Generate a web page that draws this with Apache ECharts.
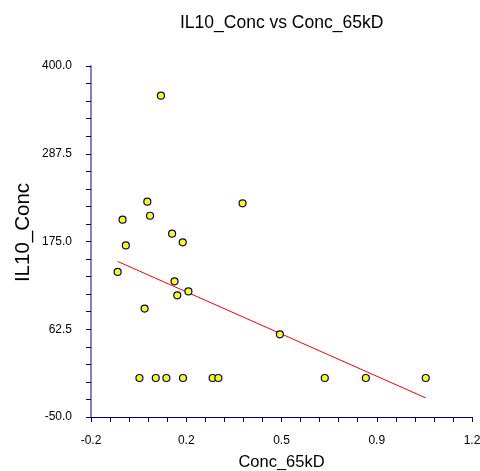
<!DOCTYPE html>
<html>
<head>
<meta charset="utf-8">
<script src="https://cdn.jsdelivr.net/npm/echarts@6/dist/echarts.min.js"></script>
<style>
html,body{margin:0;padding:0;background:#fff;}
#chart{width:480px;height:471px;}
</style>
</head>
<body>
<div id="chart"></div>
<script>
// Data
var conc65kD = [0.057, 0.007, 0.357, -0.084, 0.017, 0.098, 0.137, -0.072, -0.102, -0.003, 0.107, 0.117, 0.158, 0.494, -0.022, 0.038, 0.077, 0.138, 0.247, 0.268, 0.659, 0.81, 1.03];
var il10Conc = [362, 226, 224, 203, 208, 185, 174, 170, 136, 89, 124, 106, 111, 56, 0, 0, 0, 0, 0, 0, 0, 0, 0];

var xTickValues = [-0.2, 0.15, 0.5, 0.85, 1.2];
var xTickLabels = ['-0.2', '0.2', '0.5', '0.9', '1.2'];
var yTickValues = [-50, 62.5, 175, 287.5, 400];
var yTickLabels = ['-50.0', '62.5', '175.0', '287.5', '400.0'];

var titleText = 'IL10_Conc vs Conc_65kD';
var xName = 'Conc_65kD';
var yName = 'IL10_Conc';

// minor tick positions (5 per major interval)
function minorTicks(vals) {
  var out = [];
  for (var i = 0; i < vals.length - 1; i++) {
    var step = (vals[i + 1] - vals[i]) / 5;
    for (var k = 0; k < 5; k++) out.push(vals[i] + step * k);
  }
  out.push(vals[vals.length - 1]);
  return out;
}
function lookup(values, labels, v) {
  var best = 0, bd = Infinity;
  for (var i = 0; i < values.length; i++) {
    var d = Math.abs(values[i] - v);
    if (d < bd) { bd = d; best = i; }
  }
  return labels[best];
}

var points = conc65kD.map(function (x, i) { return [x, il10Conc[i]]; });

// least-squares regression line
var n = conc65kD.length, sx = 0, sy = 0, sxx = 0, sxy = 0;
for (var i = 0; i < n; i++) {
  sx += conc65kD[i]; sy += il10Conc[i];
  sxx += conc65kD[i] * conc65kD[i]; sxy += conc65kD[i] * il10Conc[i];
}
var slope = (n * sxy - sx * sy) / (n * sxx - sx * sx);
var intercept = (sy - slope * sx) / n;
var xmin = Math.min.apply(null, conc65kD), xmax = Math.max.apply(null, conc65kD);
var fitLine = [[xmin, intercept + slope * xmin], [xmax, intercept + slope * xmax]];

var sans = '"Liberation Sans", Arial, sans-serif';
var chart = echarts.init(document.getElementById('chart'), null, {renderer: 'canvas'});
chart.setOption({
  animation: false,
  backgroundColor: '#ffffff',
  title: {
    text: titleText,
    left: 180,
    top: 14,
    padding: 0,
    textStyle: {fontFamily: sans, fontSize: 17.5, fontWeight: 'normal', color: '#000'}
  },
  grid: {left: 91, right: 8, top: 66, bottom: 54, containLabel: false, outerBoundsMode: 'none'},
  xAxis: {
    type: 'value',
    min: -0.2,
    max: 1.2,
    name: xName,
    nameLocation: 'middle',
    nameGap: 37,
    nameMoveOverlap: false,
    nameTextStyle: {fontFamily: sans, fontSize: 16.5, color: '#000'},
    splitLine: {show: false},
    axisLine: {show: true, onZero: false, lineStyle: {color: '#000080', width: 1}},
    axisTick: {show: true, length: 5, customValues: minorTicks(xTickValues), lineStyle: {color: '#000080', width: 1}},
    axisLabel: {
      customValues: xTickValues,
      margin: 18,
      fontFamily: sans, fontSize: 12, color: '#000',
      formatter: function (v) { return lookup(xTickValues, xTickLabels, v); }
    }
  },
  yAxis: {
    type: 'value',
    min: -50,
    max: 400,
    name: yName,
    nameLocation: 'middle',
    nameGap: 57,
    nameMoveOverlap: false,
    nameRotate: 90,
    nameTextStyle: {fontFamily: sans, fontSize: 20.5, color: '#000', padding: [0, 0, 0, 18]},
    splitLine: {show: false},
    axisLine: {show: true, onZero: false, lineStyle: {color: '#8080c8', width: 2}},
    axisTick: {show: true, length: 5, customValues: minorTicks(yTickValues), lineStyle: {color: '#000080', width: 1}},
    axisLabel: {
      customValues: yTickValues,
      margin: 19,
      fontFamily: sans, fontSize: 12, color: '#000',
      formatter: function (v) { return lookup(yTickValues, yTickLabels, v); }
    }
  },
  series: [
    {
      type: 'line',
      data: fitLine,
      showSymbol: false,
      symbol: 'none',
      lineStyle: {color: '#ff0000', width: 1},
      z: 2
    },
    {
      type: 'scatter',
      data: points,
      symbol: 'circle',
      symbolSize: 7,
      itemStyle: {color: '#ffff00', borderColor: '#000080', borderWidth: 1.2, opacity: 1},
      z: 3
    }
  ]
});
</script>
</body>
</html>
